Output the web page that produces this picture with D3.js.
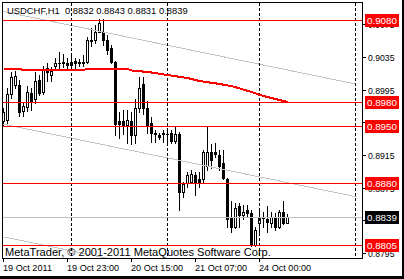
<!DOCTYPE html>
<html><head><meta charset="utf-8">
<script src="https://cdn.jsdelivr.net/npm/d3@7"></script>
<style>
html,body{margin:0;padding:0;background:#fff;overflow:hidden}
svg{display:block}
text{font-family:"Liberation Sans",Arial,sans-serif;white-space:pre}
</style></head><body>
<svg id="c" width="404" height="279"></svg>
<script>
const symbolTitle = "USDCHF,H1";
const copyrightText = "MetaTrader, \u00A9 2001-2011 MetaQuotes Software Corp.";
const xTickBars = [0, 16, 32, 48, 64];
const xTickLabels = ["19 Oct 2011", "19 Oct 23:00", "20 Oct 15:00", "21 Oct 07:00", "24 Oct 00:00"];
const separatorBars = [17, 41, 64, 88];
const yTickValues = [0.9075, 0.9035, 0.8995, 0.8955, 0.8915, 0.8875, 0.8835, 0.8795];
const levelLines = [0.9080, 0.8980, 0.8950, 0.8880, 0.8805];
const bidPrice = 0.8839;

const open = [0.8957,0.8958,0.8989,0.9001,0.9001,0.8969,0.8974,0.8991,0.8983,0.9007,
0.8992,0.9021,0.9013,0.9024,0.9028,0.9027,0.9027,0.9025,0.9030,0.9028,
0.9029,0.9029,0.9056,0.9056,0.9066,0.9065,0.9056,0.9046,0.9029,0.8956,
0.8956,0.8952,0.8957,0.8939,0.8973,0.9002,0.8973,0.8954,0.8941,0.8939,
0.8942,0.8940,0.8942,0.8932,0.8940,0.8870,0.8881,0.8882,0.8891,0.8885,
0.8885,0.8901,0.8919,0.8919,0.8915,0.8905,0.8885,0.8838,0.8827,0.8852,
0.8842,0.8848,0.8844,0.8805,0.8831,0.8838,0.8836,0.8832,0.8839,0.8827,
0.8845,0.8832];
const high = [0.8973,0.8997,0.9017,0.9018,0.9007,0.8980,0.8999,0.8997,0.9017,0.9013,
0.9024,0.9027,0.9023,0.9034,0.9041,0.9038,0.9034,0.9038,0.9034,0.9033,
0.9037,0.9059,0.9070,0.9074,0.9082,0.9082,0.9062,0.9050,0.9030,0.8968,
0.8970,0.8970,0.8968,0.8983,0.9010,0.9010,0.8981,0.8961,0.8946,0.8942,
0.8945,0.8946,0.8946,0.8950,0.8943,0.8882,0.8894,0.8896,0.8894,0.8894,
0.8921,0.8950,0.8928,0.8930,0.8921,0.8921,0.8887,0.8858,0.8856,0.8856,
0.8854,0.8854,0.8848,0.8827,0.8848,0.8845,0.8852,0.8845,0.8844,0.8848,
0.8858,0.8843];
const low = [0.8950,0.8954,0.8985,0.8997,0.8963,0.8963,0.8969,0.8970,0.8979,0.8988,
0.8989,0.9006,0.9005,0.9019,0.9022,0.9023,0.9022,0.9019,0.9022,0.9024,
0.9024,0.9027,0.9049,0.9052,0.9065,0.9050,0.9038,0.9027,0.8939,0.8936,
0.8941,0.8930,0.8928,0.8930,0.8968,0.8965,0.8942,0.8931,0.8931,0.8934,
0.8931,0.8930,0.8930,0.8930,0.8848,0.8864,0.8876,0.8880,0.8866,0.8876,
0.8881,0.8897,0.8899,0.8912,0.8897,0.8885,0.8827,0.8821,0.8826,0.8827,
0.8836,0.8839,0.8803,0.8804,0.8821,0.8827,0.8821,0.8827,0.8823,0.8826,
0.8830,0.8831];
const close = [0.8967,0.8989,0.9011,0.9012,0.8968,0.8975,0.8992,0.8981,0.9006,0.8991,
0.9019,0.9017,0.9018,0.9027,0.9027,0.9029,0.9025,0.9029,0.9028,0.9029,
0.9028,0.9056,0.9054,0.9066,0.9077,0.9056,0.9044,0.9029,0.8953,0.8953,
0.8952,0.8958,0.8939,0.8973,0.8997,0.8973,0.8952,0.8942,0.8942,0.8937,
0.8940,0.8941,0.8932,0.8940,0.8870,0.8879,0.8891,0.8892,0.8881,0.8881,
0.8919,0.8919,0.8909,0.8916,0.8902,0.8887,0.8837,0.8827,0.8850,0.8842,
0.8845,0.8844,0.8805,0.8823,0.8838,0.8839,0.8833,0.8839,0.8827,0.8845,
0.8832,0.8839];
const movingAverage = [0.90206,0.90206,0.90206,0.90206,0.90206,
0.90194,0.90194,0.90194,0.90194,0.90194,0.90194,0.90194,0.90194,
0.90194,0.90194,0.90194,0.90194,0.90194,0.90194,0.90194,0.90194,
0.90212,0.90212,0.90212,0.90212,0.90212,0.90212,0.90212,
0.90206,0.90206,0.90206,0.90206,
0.90188,0.90184,0.90179,0.90174,0.90169,0.90163,0.90155,0.90147,0.90140,0.90132,
0.90125,0.90118,0.90110,0.90103,0.90096,0.90083,0.90071,0.90059,0.90052,0.90044,
0.90037,0.90030,0.90022,0.90014,0.90005,0.89998,0.89983,0.89968,0.89954,0.89939,
0.89924,0.89907,0.89890,0.89875,0.89863,0.89851,0.89838,0.89826,0.89814,0.89801];
const channelStartBar = 0, channelStartPrice = 0.8953;
const channelEndBar = 88.25, channelEndPrice = 0.8864;
const channelHalfWidth = 0.0138;

const svg = d3.select("#c");
const W = 404, H = 279;
const plot = {left: 2, top: 2, right: 362, bottom: 258};

const x = d3.scaleLinear().domain([0, 90]).range([3, 363]);
const y = d3.scaleLinear().domain([0.878909, 0.910266]).range([258, 2]);
const row = v => Math.round(y(v) - 0.3);
const col = i => Math.round(x(i));
const f4 = d3.format(".4f");

function fitWidth(sel, target) {
  const w = sel.node().getComputedTextLength();
  const fs = parseFloat(sel.attr("font-size"));
  const nf = fs * target / w;
  sel.attr("font-size", nf);
  return nf;
}

svg.append("rect").attr("width", W).attr("height", H).attr("fill", "#fff");

svg.append("defs").append("clipPath").attr("id", "pc")
  .append("rect").attr("x", plot.left + 1).attr("y", plot.top + 1)
  .attr("width", plot.right - plot.left - 1).attr("height", plot.bottom - plot.top - 1);

const g = svg.append("g").attr("clip-path", "url(#pc)").attr("shape-rendering", "crispEdges");

// candles
const bars = d3.range(open.length);
const cg = g.append("g");
bars.forEach(i => {
  const cx = col(i);
  const hi = row(high[i]), lo = row(low[i]);
  const o = row(open[i]), c = row(close[i]);
  cg.append("rect").attr("x", cx).attr("y", hi).attr("width", 1).attr("height", lo - hi + 1).attr("fill", "#000");
  const top = Math.min(o, c), bot = Math.max(o, c);
  cg.append("rect").attr("x", cx - 1).attr("y", top).attr("width", 3).attr("height", bot - top + 1).attr("fill", "#000");
  if (close[i] > open[i] && bot - top >= 2) {
    cg.append("rect").attr("x", cx).attr("y", top + 1).attr("width", 1).attr("height", bot - top - 1).attr("fill", "#fff");
  }
});

// channel lines (aliased, like the terminal draws them)
[-1, 0, 1].forEach(k => {
  g.append("line")
    .attr("x1", x(channelStartBar) + 0.5).attr("y1", y(channelStartPrice + k * channelHalfWidth))
    .attr("x2", x(channelEndBar) + 0.5).attr("y2", y(channelEndPrice + k * channelHalfWidth))
    .attr("stroke", "#c4c4c4").attr("stroke-width", 1).attr("shape-rendering", "crispEdges");
});

// bid line
g.append("rect").attr("x", plot.left + 1).attr("y", row(bidPrice))
  .attr("width", plot.right - plot.left - 1).attr("height", 1).attr("fill", "#c0c0c0");

// separators
separatorBars.forEach(b => {
  g.append("line").attr("x1", col(b) + 0.5).attr("x2", col(b) + 0.5)
    .attr("y1", plot.top + 1).attr("y2", plot.bottom)
    .attr("stroke", "#000").attr("stroke-width", 1).attr("stroke-dasharray", "3,2");
});

// horizontal levels
levelLines.forEach(p => {
  g.append("rect").attr("x", plot.left + 1).attr("y", row(p))
    .attr("width", plot.right - plot.left - 1).attr("height", 1).attr("fill", "#ff0000");
});

// moving average
const maLine = d3.line().x((d, i) => col(i) + 0.5).y(d => y(d));
svg.append("g").attr("clip-path", "url(#pc)").append("path")
  .attr("d", maLine(movingAverage)).attr("fill", "none")
  .attr("stroke", "#ff0000").attr("stroke-width", 2).attr("shape-rendering", "crispEdges");

// frame
svg.append("rect").attr("x", plot.left + 0.5).attr("y", plot.top + 0.5)
  .attr("width", plot.right - plot.left).attr("height", plot.bottom - plot.top)
  .attr("fill", "none").attr("stroke", "#000").attr("shape-rendering", "crispEdges");

// right price axis
const ya = svg.append("g");
let axisFont = null;
yTickValues.forEach(v => {
  const r = row(v);
  ya.append("line").attr("x1", plot.right).attr("x2", plot.right + 4)
    .attr("y1", r + 0.5).attr("y2", r + 0.5).attr("stroke", "#000").attr("shape-rendering", "crispEdges");
  const t = ya.append("text").attr("x", 368).attr("y", r + 4).attr("font-size", 9).attr("fill", "#000")
    .text(f4(v));
  if (axisFont === null) axisFont = fitWidth(t, 26.5);
  else t.attr("font-size", axisFont);
});

// price tags
let tagFont = null;
const tag = (p, color) => {
  const r = row(p);
  ya.append("rect").attr("x", 365).attr("y", r - 6).attr("width", 34).attr("height", 13)
    .attr("fill", color).attr("shape-rendering", "crispEdges");
  const t = ya.append("text").attr("x", 367).attr("y", r + 4).attr("font-size", 10).attr("fill", "#fff")
    .text(f4(p));
  if (tagFont === null) tagFont = fitWidth(t, 30);
  else t.attr("font-size", tagFont);
};
levelLines.forEach(p => tag(p, "#ff0000"));
tag(bidPrice, "#000");

// bottom time axis
const xa = svg.append("g");
let xFont = null;
xTickBars.forEach((b, k) => {
  xa.append("line").attr("x1", col(b) + 0.5).attr("x2", col(b) + 0.5)
    .attr("y1", plot.bottom).attr("y2", plot.bottom + 4).attr("stroke", "#000").attr("shape-rendering", "crispEdges");
  const t = xa.append("text").attr("x", col(b)).attr("y", 271).attr("font-size", 9).attr("fill", "#000")
    .text(xTickLabels[k]);
  if (xFont === null) xFont = fitWidth(t, 49);
  else t.attr("font-size", xFont);
});

// title
const last = open.length - 1;
const title = svg.append("text").attr("x", 7).attr("y", 14).attr("font-size", 9.5).attr("fill", "#000")
  .text(symbolTitle + "  " + [open[last], high[last], low[last], close[last]].map(f4).join(" "));
fitWidth(title, 181);

// copyright
const copy = svg.append("text").attr("x", 5).attr("y", 256).attr("font-size", 11).attr("fill", "#000")
  .text(copyrightText);
fitWidth(copy, 266);

// window edges
svg.append("rect").attr("x", 402).attr("y", 0).attr("width", 2).attr("height", H).attr("fill", "#000");
svg.append("rect").attr("x", 0).attr("y", 276).attr("width", W).attr("height", 3).attr("fill", "#000");
</script>
</body></html>
